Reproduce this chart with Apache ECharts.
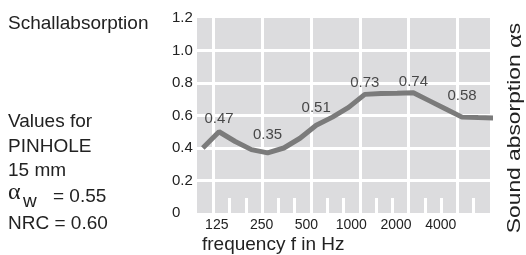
<!DOCTYPE html>
<html>
<head>
<meta charset="utf-8">
<script src="https://cdn.jsdelivr.net/npm/echarts@6/dist/echarts.min.js"></script>
<style>
html, body { margin: 0; padding: 0; background: #fff; }
#chart { width: 526px; height: 255px; }
</style>
</head>
<body>
<div id="chart"></div>
<script>
// third-octave bands 100 Hz .. 6300 Hz
const bands = ['100', '125', '160', '200', '250', '315', '400', '500', '630', '800',
    '1000', '1250', '1600', '2000', '2500', '3150', '4000', '5000', '6300'];
const octaveLabels = ['125', '250', '500', '1000', '2000', '4000'];
// curve, one value per band
const absorption = [0.40, 0.50, 0.44, 0.39, 0.37, 0.40, 0.46, 0.54, 0.59, 0.65,
    0.73, 0.735, 0.737, 0.74, 0.69, 0.64, 0.59, 0.587, 0.585];
// printed values at the octave bands
const octaveValues = [0.47, 0.35, 0.51, 0.73, 0.74, 0.58];
const yTicks = [0, 0.2, 0.4, 0.6, 0.8, 1.0, 1.2];
const infoLines = ['Values for', 'PINHOLE', '15 mm'];

const FONT = 'Liberation Sans';
const TXT = '#222';

const octaveIdx = octaveLabels.map(l => bands.indexOf(l));
const thirdIdx = bands.map((b, i) => i).filter(i => i > 0 && i < bands.length - 1 && octaveIdx.indexOf(i) < 0);
// how far each printed value sits above the curve (px)
const labelLift = [5, 11, 10, 4, 3, 14];

const chart = echarts.init(document.getElementById('chart'));

const hiddenAxis = {
    type: 'value', position: 'bottom',
    axisLine: {show: false}, axisLabel: {show: false},
    axisTick: {show: false}, splitLine: {show: false}
};

chart.setOption({
    animation: false,
    grid: {
        left: 197, right: 36, top: 18, bottom: 42,
        show: true, backgroundColor: '#dcdcde', borderWidth: 0
    },
    xAxis: [
        // octave grid lines
        Object.assign({}, hiddenAxis, {
            min: 0, max: 18,
            axisTick: {show: false, customValues: octaveIdx},
            splitLine: {show: true, lineStyle: {color: '#fff', width: 3}}
        }),
        // short third-octave marks
        Object.assign({}, hiddenAxis, {
            min: 0, max: 18,
            axisTick: {
                show: true, inside: true, length: 15, customValues: thirdIdx,
                lineStyle: {color: '#fff', width: 3}
            }
        }),
        // frequency labels
        Object.assign({}, hiddenAxis, {
            min: -0.442, max: 6.098,
            axisTick: {show: false, customValues: [0, 1, 2, 3, 4, 5]},
            axisLabel: {
                show: true, margin: 5, fontSize: 14, color: TXT, fontFamily: FONT,
                customValues: [0, 1, 2, 3, 4, 5],
                formatter: v => octaveLabels[Math.round(v)]
            }
        }),
        // axis for the curve
        Object.assign({}, hiddenAxis, {show: false, min: -0.36, max: 17.73})
    ],
    yAxis: [{
        type: 'value', min: 0, max: 1.2, interval: 0.2,
        axisLine: {show: false},
        axisTick: {show: false, customValues: [0.2, 0.4, 0.6, 0.8, 1.0]},
        splitLine: {show: true, lineStyle: {color: '#fff', width: 3}},
        axisLabel: {
            customValues: yTicks, align: 'left', margin: 25,
            fontSize: 15, color: TXT, fontFamily: FONT,
            formatter: v => v === 0 ? '0' : v.toFixed(1)
        }
    }],
    series: [
        {
            type: 'line', xAxisIndex: 3,
            data: absorption.map((v, i) => [i, v]),
            showSymbol: false, symbol: 'none',
            lineStyle: {color: '#7b7b7b', width: 5},
            silent: true
        },
        {
            type: 'scatter', xAxisIndex: 3, symbolSize: 0, silent: true,
            data: octaveIdx.map((bi, k) => ({
                value: [bi, absorption[bi]],
                label: {distance: labelLift[k]}
            })),
            label: {
                show: true, position: 'top', fontSize: 15, color: TXT, fontFamily: FONT,
                formatter: p => octaveValues[p.dataIndex].toFixed(2)
            }
        }
    ],
    graphic: [
        {type: 'text', x: 8, y: 24, style: {text: 'Schallabsorption', font: '19px ' + FONT, fill: TXT, textVerticalAlign: 'middle'}},
        ...infoLines.map((t, i) => ({
            type: 'text', x: 8, y: 122 + i * 24.5,
            style: {text: t, font: '19px ' + FONT, fill: TXT, textVerticalAlign: 'middle'}
        })),
        {type: 'text', x: 8, y: 193, style: {text: 'α', font: '24px Liberation Serif', fill: TXT, textVerticalAlign: 'middle'}},
        {type: 'text', x: 23, y: 202, style: {text: 'w', font: '19px ' + FONT, fill: TXT, textVerticalAlign: 'middle'}},
        {type: 'text', x: 53, y: 197, style: {text: '= 0.55', font: '19px ' + FONT, fill: TXT, textVerticalAlign: 'middle'}},
        {type: 'text', x: 8, y: 224, style: {text: 'NRC = 0.60', font: '19px ' + FONT, fill: TXT, textVerticalAlign: 'middle'}},
        {type: 'text', x: 202, y: 245, style: {text: 'frequency f in Hz', font: '19px ' + FONT, fill: TXT, textVerticalAlign: 'middle'}},
        {
            type: 'text', x: 515, y: 128, rotation: Math.PI / 2, scaleX: 1.2,
            style: {
                text: 'Sound absorption {a|α}s', font: '19px ' + FONT, fill: TXT,
                textAlign: 'center', textVerticalAlign: 'middle',
                rich: {a: {font: '22px Liberation Serif', fill: TXT}}
            }
        }
    ]
});
</script>
</body>
</html>
